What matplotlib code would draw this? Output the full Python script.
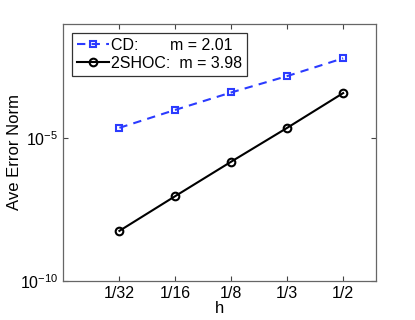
import numpy as np
import matplotlib
matplotlib.use("Agg")
from matplotlib import pyplot as plt

plt.rcParams['font.family'] = ['Liberation Sans', 'DejaVu Sans']
plt.rcParams['mathtext.fontset'] = 'custom'
plt.rcParams['mathtext.rm'] = 'Liberation Sans'
plt.rcParams['mathtext.default'] = 'regular'

# mesh sizes and errors
h = [1/32, 1/16, 1/8, 1/4, 1/2]
h_labels = ['1/32', '1/16', '1/8', '1/3', '1/2']
err_cd = [2.3e-5, 9.8e-5, 4.0e-4, 1.5e-3, 6.3e-3]
err_2shoc = [5.6e-9, 9.3e-8, 1.5e-6, 2.3e-5, 3.8e-4]
label_cd = 'CD:       m = 2.01'
label_2shoc = '2SHOC:  m = 3.98'

fig = plt.figure(figsize=(4.15, 3.2), dpi=100)
ax = fig.add_axes([0.153, 0.1228, 0.752, 0.802])

ax.loglog(h, err_cd, '--s', color='#2b3bff', lw=1.5, ms=4.5, mfc='none', mew=1.5,
          dashes=(4, 3), label=label_cd)
ax.loglog(h, err_2shoc, '-o', color='black', lw=1.5, ms=5.5, mfc='none', mew=1.5, label=label_2shoc)

ax.set_xlim(1/64, 2**(-0.42))
ax.set_ylim(1e-10, 1e-1)
ax.set_xticks(h)
ax.set_xticklabels(h_labels)
ax.set_yticks([1e-10, 1e-5])
ax.set_yticklabels(['$10^{-10}$', '$10^{-5}$'])
ax.minorticks_off()
ax.tick_params(which='both', direction='in', top=True, right=True, length=3.5,
               labelsize=11.5, color='#444444', width=0.8)
for s in ax.spines.values():
    s.set_color('#666666')
    s.set_linewidth(0.9)

ax.set_xlabel('h', fontsize=12, labelpad=0)
ax.set_ylabel('Ave Error Norm', fontsize=12, labelpad=-1)

leg = ax.legend(loc='upper left', fontsize=11.5, handlelength=2.0, handletextpad=0.15,
                borderaxespad=0.55, labelspacing=0.2, borderpad=0.3, fancybox=False,
                framealpha=1, edgecolor='#333333')
leg.get_frame().set_linewidth(0.9)

plt.savefig('out.png', dpi=100)
